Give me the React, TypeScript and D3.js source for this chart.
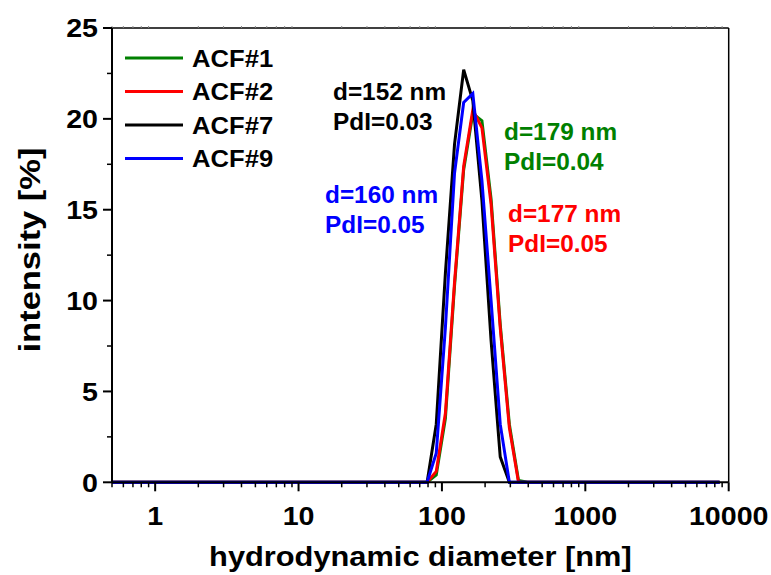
import React from "react";
import * as d3 from "d3";

const sizes = [0.4, 68.06, 78.82, 91.28, 105.7, 122.4, 141.8, 164.2, 190.1, 220.2, 255.0, 295.3, 342.0, 396.1, 8635];
const acf1 = [0, 0, 0, 0.4, 3.5, 10.8, 17.2, 20.3, 19.9, 15.6, 8.7, 3.2, 0.1, 0, 0];
const acf2 = [0, 0, 0, 0.6, 3.8, 11.0, 17.4, 20.5, 19.5, 15.3, 8.5, 3.0, 0, 0, 0];
const acf7 = [0, 0, 0, 3.2, 11.5, 18.6, 22.7, 21.0, 15.5, 7.8, 1.4, 0, 0, 0, 0];
const acf9 = [0, 0, 0, 1.6, 8.5, 17.0, 20.9, 21.4, 16.6, 10.0, 3.2, 0, 0, 0, 0];

const seriesNames = ["ACF#1", "ACF#2", "ACF#7", "ACF#9"];
const seriesColors = ["#008000", "#ff0000", "#000000", "#0000ff"];
const seriesValues = [acf1, acf2, acf7, acf9];

const xTicks = [1, 10, 100, 1000, 10000];
const yTicks = [0, 5, 10, 15, 20, 25];

const annotations = [
  { lines: ["d=152 nm", "PdI=0.03"], color: "#000000", x: 333, y: 100 },
  { lines: ["d=179 nm", "PdI=0.04"], color: "#008000", x: 504, y: 140 },
  { lines: ["d=160 nm", "PdI=0.05"], color: "#0000ff", x: 325, y: 203 },
  { lines: ["d=177 nm", "PdI=0.05"], color: "#ff0000", x: 508, y: 222 },
];

const FONT = "'Liberation Sans', Arial, Helvetica, sans-serif";

export default function App() {
  const W = 771, H = 575;
  const left = 112, right = 728.7, top = 28, bottom = 482.3;
  const x = d3.scaleLog().domain([0.5, 10000]).range([left, right]);
  const y = d3.scaleLinear().domain([0, 25]).range([bottom, top]);

  const line = d3
    .line<number>()
    .x((_, i) => x(sizes[i]))
    .y((d) => y(d));

  const minorX: number[] = [];
  for (let e = -1; e < 4; e++) {
    for (let m = 1; m <= 9; m++) {
      const v = m * Math.pow(10, e);
      if (v >= 0.5 && v <= 10000 && m !== 1) minorX.push(v);
    }
  }
  const minorY = [2.5, 7.5, 12.5, 17.5, 22.5];

  return (
    <svg
      width={W}
      height={H}
      style={{ position: "absolute", left: 0, top: 0, background: "#fff" }}
      fontFamily={FONT}
      fontWeight="bold"
    >
      <defs>
        <clipPath id="plotclip">
          <rect x={left} y={top - 5} width={right - left} height={bottom - top + 10} />
        </clipPath>
      </defs>
      <rect x={0} y={0} width={W} height={H} fill="#fff" />

      {/* curves */}
      <g clipPath="url(#plotclip)">
        {seriesValues.map((vals, i) => (
          <path
            key={i}
            d={line(vals) || ""}
            fill="none"
            stroke={seriesColors[i]}
            strokeWidth={3}
            strokeLinejoin="miter"
          />
        ))}
      </g>

      {/* axes frame */}
      <line x1={left} x2={right} y1={bottom} y2={bottom} stroke="#000" strokeWidth={2} />
      <line x1={left} x2={right} y1={top} y2={top} stroke="#000" strokeWidth={1.5} />
      <line x1={left} x2={left} y1={top} y2={bottom} stroke="#000" strokeWidth={2} />
      <line x1={right} x2={right} y1={top} y2={bottom} stroke="#000" strokeWidth={1.5} />

      {/* x ticks */}
      {xTicks.map((t) => (
        <g key={"xt" + t}>
          <line x1={x(t)} x2={x(t)} y1={bottom} y2={bottom + 9} stroke="#000" strokeWidth={2} />
          <text
            transform={`translate(${x(t)},${bottom + 43}) scale(1.1,1)`}
            textAnchor="middle"
            fontSize={26}
          >
            {t}
          </text>
        </g>
      ))}
      {minorX.map((t) => (
        <line key={"xm" + t} x1={x(t)} x2={x(t)} y1={bottom} y2={bottom + 5} stroke="#000" strokeWidth={1.5} />
      ))}
      {minorX.map((t) => (
        <line key={"xtop" + t} x1={x(t)} x2={x(t)} y1={top} y2={top - 2} stroke="#888" strokeWidth={1} />
      ))}

      {/* y ticks */}
      {yTicks.map((t) => (
        <g key={"yt" + t}>
          <line x1={left - 9} x2={left} y1={y(t)} y2={y(t)} stroke="#000" strokeWidth={2} />
          <text
            transform={`translate(${left - 14},${y(t) + 9.3}) scale(1.1,1)`}
            textAnchor="end"
            fontSize={26}
          >
            {t}
          </text>
        </g>
      ))}
      {minorY.map((t) => (
        <line key={"ym" + t} x1={left - 5} x2={left} y1={y(t)} y2={y(t)} stroke="#000" strokeWidth={1.5} />
      ))}

      {/* axis titles */}
      <text
        transform={`translate(${(left + right) / 2},566) scale(1.1,1)`}
        textAnchor="middle"
        fontSize={28}
      >
        hydrodynamic diameter [nm]
      </text>
      <text
        transform={`translate(40,250) rotate(-90) scale(1.15,1)`}
        textAnchor="middle"
        fontSize={30}
      >
        intensity [%]
      </text>

      {/* legend */}
      {seriesNames.map((n, i) => {
        const ly = 58 + i * 33.5;
        return (
          <g key={n}>
            <line x1={125} x2={183} y1={ly} y2={ly} stroke={seriesColors[i]} strokeWidth={3} />
            <text transform={`translate(192,${ly + 8.5}) scale(1.09,1)`} fontSize={23.5}>
              {n}
            </text>
          </g>
        );
      })}

      {/* annotations */}
      {annotations.map((a, i) => (
        <g key={"an" + i} fill={a.color}>
          {a.lines.map((l, j) => (
            <text key={j} transform={`translate(${a.x},${a.y + j * 30}) scale(1.06,1)`} fontSize={23}>
              {l}
            </text>
          ))}
        </g>
      ))}
    </svg>
  );
}
